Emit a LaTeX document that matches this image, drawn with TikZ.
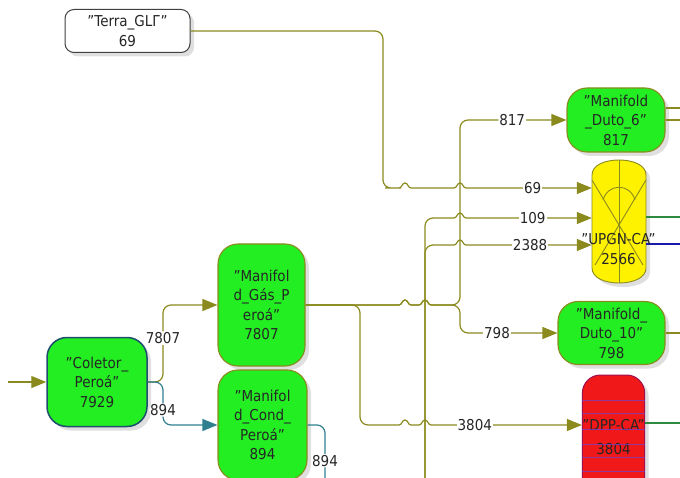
\documentclass[tikz,border=0pt]{standalone}
\usepackage{fontspec}
\setmainfont{DejaVu Sans}[FakeStretch=0.9]
\usetikzlibrary{positioning, arrows.meta, shadows}
\definecolor{olivewire}{HTML}{8A8A1E}
\definecolor{tealwire}{HTML}{2F7F8F}
\definecolor{limefill}{HTML}{22EE22}
\definecolor{navyedge}{HTML}{1F4E6E}
\definecolor{tankred}{HTML}{F01818}
\definecolor{tankedge}{HTML}{A01050}
\definecolor{stripe}{HTML}{7B3FBF}
\definecolor{greenwire}{HTML}{2E8B3E}
\definecolor{bluewire}{HTML}{1A1AAA}
% small hop where a line crosses another (use with sharp corners)
\newcommand{\hop}[2]{-- (#1-6,#2) .. controls (#1-3,#2) and (#1-3,#2-5) .. (#1,#2-5) .. controls (#1+3,#2-5) and (#1+3,#2) .. (#1+6,#2)}

\begin{document}
\begin{tikzpicture}[x=1pt, y=-1pt,
    every node/.style={font=\fontsize{15}{19.5}\selectfont, text=black!85},
    shade/.style={drop shadow={shadow xshift=4pt, shadow yshift=-4pt, fill=black!25}},
    tagbox/.style={draw=black!75, line width=1pt, fill=white, rounded corners=9pt,
      align=center, inner sep=0pt, shade},
    unitbox/.style={draw=olivewire, line width=1.1pt, fill=limefill, rounded corners=20pt,
      align=center, inner sep=0pt, shade},
    wire/.style={draw=olivewire, line width=1.2pt, rounded corners=8pt},
    flow/.style={wire, -{Triangle[length=15pt, width=12pt]}},
    tealflow/.style={flow, draw=tealwire},
    tankline/.style={draw=olivewire, line width=0.9pt},
    lbl/.style={fill=white, inner sep=1pt}]

  \clip (0,0) rectangle (680,478);

  % units
  \node[tagbox, minimum width=125pt, minimum height=43pt] (terra) at (127.5,31) {"Terra\_GLГ"\\69};
  \node[unitbox, draw=navyedge, line width=1.5pt, minimum width=100pt, minimum height=89pt] (coletor) at (97,382) {"Coletor\_\\Peroá"\\7929};
  \node[unitbox, minimum width=87pt, minimum height=122pt] (gas) at (261.5,305) {"Manifol\\d\_Gás\_P\\eroá"\\7807};
  \node[unitbox, minimum width=89pt, minimum height=110pt] (cond) at (262.5,425) {"Manifol\\d\_Cond\_\\Peroá"\\894};
  \node[unitbox, minimum width=98pt, minimum height=64pt] (duto6) at (616,120) {"Manifold\\\_Duto\_6"\\817};
  \node[unitbox, minimum width=107pt, minimum height=63pt] (duto10) at (611.5,333) {"Manifold\_\\Duto\_10"\\798};

  % UPGN tank
  \node[minimum width=54pt, minimum height=123pt, inner sep=0pt] (upgn) at (619,221.5) {};
  \path[tankline, fill=yellow, shade] (592,175) .. controls (592,165) and (605,160) .. (619,160)
    .. controls (633,160) and (646,165) .. (646,175) -- (646,268)
    .. controls (646,278) and (633,283) .. (619,283) .. controls (605,283) and (592,278) .. (592,268) -- cycle;
  \draw[tankline] (upgn.north) -- (upgn.south);
  \draw[tankline] (592,180) -- (643,265);
  \draw[tankline] (646,180) -- (595,265);
  \draw[tankline] (603,200) .. controls (608,183) and (630,183) .. (635,200);

  % DPP tank
  \node[draw=tankedge, line width=1pt, fill=tankred, rounded corners=18pt, shade,
        minimum width=57pt, minimum height=124pt, inner sep=0pt, align=center] (dpp) at (613.5,437) {"DPP-CA"\\[4pt]3804};
  \foreach \yy in {400,413,429,444,457,471}
    \draw[stripe, line width=0.6pt, opacity=0.8] (dpp.west |- 0,\yy) -- (dpp.east |- 0,\yy);

  % free ends
  \coordinate (inlet) at (8,382);
  \coordinate (feed) at (425,490);
  \coordinate (condout) at (325,490);
  \coordinate (exitA) at (690,108);
  \coordinate (exitB) at (690,120);
  \coordinate (exitC) at (690,217);
  \coordinate (exitD) at (690,244);
  \coordinate (exitE) at (690,333);
  \coordinate (exitF) at (690,423);

  % connectors
  \draw[flow] (inlet) -- (coletor.west);
  \draw[flow] (coletor.east) -- (163,382) -- node[lbl, pos=0.57]{7807} (163,305) -- (gas.west);
  \draw[tealflow] (coletor.east) -- (163,382) -- node[lbl, pos=0.65]{894} (163,425) -- (cond.west);
  \draw[wire, draw=tealwire] (cond.east) -- (325,425) -- node[lbl, pos=0.55]{894} (condout);

  \draw[flow] (terra.east) -- (383,31) -- (383,188) -- (393,188) [sharp corners] \hop{405}{188} \hop{460}{188}
    -- node[lbl, pos=0.53]{69} (upgn.west |- 0,188);
  \draw[flow] (feed) -- (425,218) -- (440,218) [sharp corners] \hop{460}{218}
    -- node[lbl, pos=0.53]{109} (upgn.west |- 0,218);
  \draw[flow] (feed) -- (425,245) -- (440,245) [sharp corners] \hop{460}{245}
    -- node[lbl, pos=0.51]{2388} (upgn.west |- 0,245);

  \draw[flow] (gas.east) [sharp corners] \hop{405}{305} \hop{425}{305} -- (440,305)
    [rounded corners=8pt] -- (460,305) -- (460,120) -- node[lbl, pos=0.49]{817} (duto6.west);
  \draw[flow] (gas.east) [sharp corners] \hop{405}{305} \hop{425}{305} -- (440,305)
    [rounded corners=8pt] -- (460,305) -- (460,333) -- node[lbl, pos=0.38]{798} (duto10.west);
  \draw[flow] (gas.east) -- (360,305) -- (360,425) -- (385,425) [sharp corners] \hop{405}{425} \hop{425}{425}
    -- node[lbl, pos=0.29]{3804} (dpp.west |- 0,425);

  \draw[wire] (duto6.east |- 0,108) -- (exitA);
  \draw[wire] (duto6.east) -- (exitB);
  \draw[wire, draw=greenwire] (upgn.east |- 0,217) -- (exitC);
  \draw[wire, draw=bluewire] (upgn.east |- 0,244) -- (exitD);
  \draw[wire] (duto10.east) -- (exitE);
  \draw[wire, draw=greenwire] (dpp.east |- 0,423) -- (exitF);

  \node[align=center] (upgntxt) at (618.5,249) {"UPGN-CA"\\2566};
\end{tikzpicture}
\end{document}
